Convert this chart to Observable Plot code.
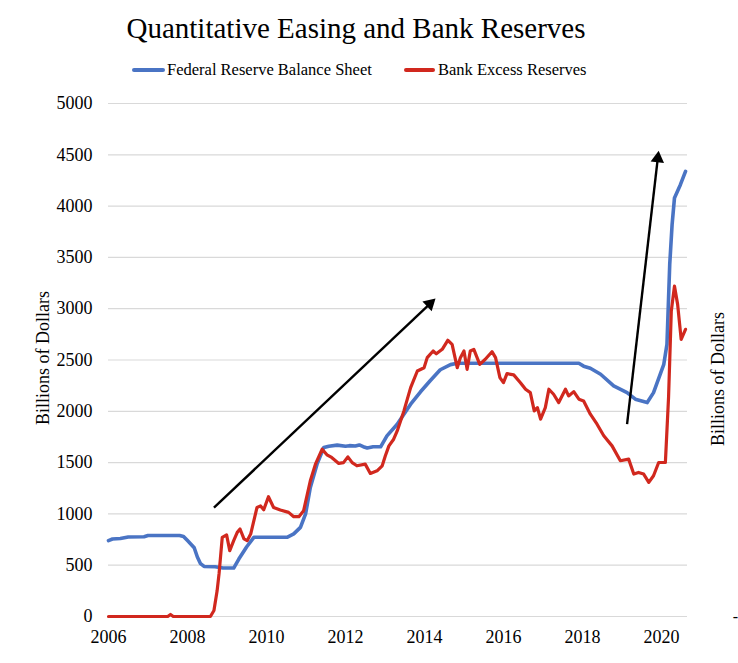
<!DOCTYPE html>
<html>
<head>
<meta charset="utf-8">
<script src="https://cdn.jsdelivr.net/npm/d3@7"></script>
<script src="https://cdn.jsdelivr.net/npm/@observablehq/plot@0.6"></script>
<style>
  html, body { margin: 0; padding: 0; background: #fff; }
  #wrap { position: relative; width: 738px; height: 663px; font-family: "Liberation Serif", "Times New Roman", serif; color: #000; }
  #head { position: relative; width: 738px; height: 85px; }
  #title { position: absolute; left: 0; width: 712px; top: 13px; line-height: 30px; font-size: 29px; text-align: center; white-space: nowrap; }
  .sw { position: absolute; height: 4px; top: 68px; border-radius: 2px; }
  .lt { position: absolute; top: 62px; font-size: 16.5px; line-height: 16.5px; white-space: nowrap; }
</style>
</head>
<body>
<div id="wrap">
  <div id="head">
    <div id="title"></div>
    <div class="sw" id="sw0" style="left:132px;width:33px;"></div>
    <div class="lt" id="lt0" style="left:167px;"></div>
    <div class="sw" id="sw1" style="left:404px;width:31px;"></div>
    <div class="lt" id="lt1" style="left:438px;"></div>
  </div>
  <div id="chart"></div>
</div>
<script>
// ---- data ----
const titleText = "Quantitative Easing and Bank Reserves";
const seriesNames = ["Federal Reserve Balance Sheet", "Bank Excess Reserves"];
const seriesColors = ["#4a74c4", "#d1281e"];
const yAxisTitle = "Billions of Dollars";

const xTicks = [2006, 2008, 2010, 2012, 2014, 2016, 2018, 2020];
const yTicks = [0, 500, 1000, 1500, 2000, 2500, 3000, 3500, 4000, 4500, 5000];

const fedYears = [2006.0, 2006.1, 2006.3, 2006.5, 2006.9, 2007.0, 2007.8, 2007.9, 2008.0, 2008.1, 2008.17, 2008.25, 2008.33, 2008.42, 2008.7, 2008.9, 2009.17, 2009.3, 2009.5, 2009.68, 2010.52, 2010.69, 2010.86, 2010.99, 2011.11, 2011.28, 2011.45, 2011.58, 2011.79, 2012.0, 2012.1, 2012.25, 2012.35, 2012.45, 2012.55, 2012.7, 2012.89, 2013.05, 2013.31, 2013.65, 2013.9, 2014.15, 2014.4, 2014.66, 2014.83, 2017.91, 2018.03, 2018.2, 2018.46, 2018.79, 2019.13, 2019.34, 2019.5, 2019.64, 2019.8, 2020.06, 2020.14, 2020.21, 2020.27, 2020.33, 2020.48, 2020.61];
const fedValues = [740, 755, 760, 775, 778, 790, 790, 780, 740, 700, 670, 580, 515, 488, 485, 472, 472, 560, 680, 772, 772, 805, 869, 1000, 1258, 1485, 1647, 1660, 1670, 1660, 1665, 1662, 1672, 1655, 1642, 1654, 1654, 1761, 1874, 2069, 2190, 2300, 2405, 2455, 2468, 2468, 2440, 2420, 2361, 2247, 2182, 2118, 2100, 2085, 2182, 2458, 2653, 3431, 3820, 4079, 4209, 4339];

const resYears = [2006.0, 2007.5, 2007.57, 2007.64, 2008.58, 2008.67, 2008.75, 2008.8, 2008.88, 2008.99, 2009.07, 2009.17, 2009.26, 2009.33, 2009.43, 2009.51, 2009.6, 2009.76, 2009.85, 2009.93, 2010.05, 2010.18, 2010.35, 2010.56, 2010.69, 2010.82, 2010.94, 2011.11, 2011.24, 2011.41, 2011.53, 2011.65, 2011.83, 2011.95, 2012.06, 2012.17, 2012.29, 2012.5, 2012.63, 2012.8, 2012.93, 2013.01, 2013.1, 2013.22, 2013.31, 2013.48, 2013.65, 2013.82, 2013.99, 2014.07, 2014.22, 2014.3, 2014.45, 2014.59, 2014.7, 2014.83, 2014.91, 2015.0, 2015.08, 2015.16, 2015.25, 2015.4, 2015.54, 2015.71, 2015.8, 2015.91, 2016.0, 2016.09, 2016.26, 2016.43, 2016.56, 2016.68, 2016.78, 2016.86, 2016.94, 2017.06, 2017.15, 2017.27, 2017.4, 2017.57, 2017.65, 2017.78, 2017.91, 2018.03, 2018.2, 2018.37, 2018.54, 2018.75, 2018.96, 2019.17, 2019.3, 2019.42, 2019.55, 2019.68, 2019.8, 2019.93, 2020.1, 2020.18, 2020.25, 2020.33, 2020.41, 2020.5, 2020.61];
const resValues = [0, 0, 20, 0, 0, 58, 250, 420, 772, 795, 642, 739, 820, 853, 756, 739, 804, 1063, 1078, 1040, 1167, 1063, 1038, 1015, 973, 973, 1031, 1323, 1485, 1631, 1576, 1550, 1492, 1500, 1556, 1500, 1469, 1485, 1394, 1420, 1469, 1566, 1663, 1728, 1809, 2004, 2231, 2393, 2425, 2523, 2588, 2560, 2604, 2692, 2653, 2425, 2523, 2588, 2409, 2588, 2604, 2458, 2507, 2581, 2523, 2328, 2279, 2367, 2355, 2279, 2215, 2182, 2004, 2036, 1923, 2036, 2215, 2166, 2085, 2215, 2150, 2192, 2118, 2101, 1972, 1874, 1761, 1663, 1518, 1534, 1388, 1404, 1388, 1307, 1372, 1501, 1501, 2133, 2977, 3220, 3042, 2701, 2799];

// annotation arrows: start (year, value) -> end (year, value)
const arrowX1 = [2008.67, 2019.13];
const arrowY1 = [1060, 1874];
const arrowX2 = [2014.28, 2019.93];
const arrowY2 = [3100, 4540];

// ---- layout ----
const W = 738, H = 578;
const mTop = 18, mBottom = 47, mLeft = 108, mRight = 51;
const xDomain = [2006, 2020.66];
const yDomain = [0, 5000];

document.getElementById("title").textContent = titleText;
document.getElementById("lt0").textContent = seriesNames[0];
document.getElementById("lt1").textContent = seriesNames[1];
document.getElementById("sw0").style.background = seriesColors[0];
document.getElementById("sw1").style.background = seriesColors[1];

const fed = fedYears.map((x, i) => ({x, y: fedValues[i]}));
const res = resYears.map((x, i) => ({x, y: resValues[i]}));

// arrowhead geometry via the same scales the plot uses
const xs = Plot.scale({x: {domain: xDomain, range: [mLeft, W - mRight]}});
const ys = Plot.scale({y: {domain: yDomain, range: [H - mBottom, mTop]}});
const headR = 5;
const headBack = 2 * Math.sqrt(Math.PI * headR * headR / (3 * Math.sqrt(3)));
const arrows = arrowX1.map((x1, i) => {
  const p0 = [xs.apply(x1), ys.apply(arrowY1[i])];
  const p1 = [xs.apply(arrowX2[i]), ys.apply(arrowY2[i])];
  const dx = p1[0] - p0[0], dy = p1[1] - p0[1];
  const len = Math.hypot(dx, dy);
  const ux = dx / len, uy = dy / len;
  const cx = p1[0] - ux * headBack, cy = p1[1] - uy * headBack;
  return {
    x1, y1: arrowY1[i],
    x2: xs.invert(cx), y2: ys.invert(cy),
    rot: Math.atan2(dx, -dy) * 180 / Math.PI
  };
});

const chart = Plot.plot({
  width: W,
  height: H,
  marginTop: mTop,
  marginBottom: mBottom,
  marginLeft: mLeft,
  marginRight: mRight,
  style: {fontFamily: "'Liberation Serif', 'Times New Roman', serif", fontSize: "18px", color: "#000", background: "#fff", overflow: "visible"},
  x: {domain: xDomain},
  y: {domain: yDomain},
  marks: [
    Plot.gridY(yTicks, {stroke: "#d9d9d9", strokeOpacity: 1, strokeWidth: 1.2}),
    Plot.axisY(yTicks, {tickSize: 0, tickPadding: 16, fontSize: 18, label: null, tickFormat: d => String(d)}),
    Plot.axisX(xTicks, {tickSize: 0, tickPadding: 14, fontSize: 18, label: null, tickFormat: d => String(d)}),
    Plot.line(fed, {x: "x", y: "y", stroke: seriesColors[0], strokeWidth: 3.6, strokeLinejoin: "round"}),
    Plot.line(res, {x: "x", y: "y", stroke: seriesColors[1], strokeWidth: 3.2, strokeLinejoin: "round"}),
    Plot.link(arrows, {x1: "x1", y1: "y1", x2: "x2", y2: "y2", stroke: "#000", strokeWidth: 2.4}),
    Plot.dot(arrows, {x: "x2", y: "y2", symbol: "triangle", r: headR, fill: "#000", stroke: "none", rotate: "rot"}),
    Plot.text([yAxisTitle], {frameAnchor: "left", textAnchor: "middle", dx: -65, dy: -2, rotate: -90, fontSize: 18}),
    Plot.text([yAxisTitle], {frameAnchor: "right", textAnchor: "middle", dx: 31, dy: 19, rotate: -90, fontSize: 18}),
    Plot.text(["-"], {frameAnchor: "bottom-right", textAnchor: "middle", dx: 48, dy: 5, fontSize: 16})
  ]
});
document.getElementById("chart").appendChild(chart);
</script>
</body>
</html>
